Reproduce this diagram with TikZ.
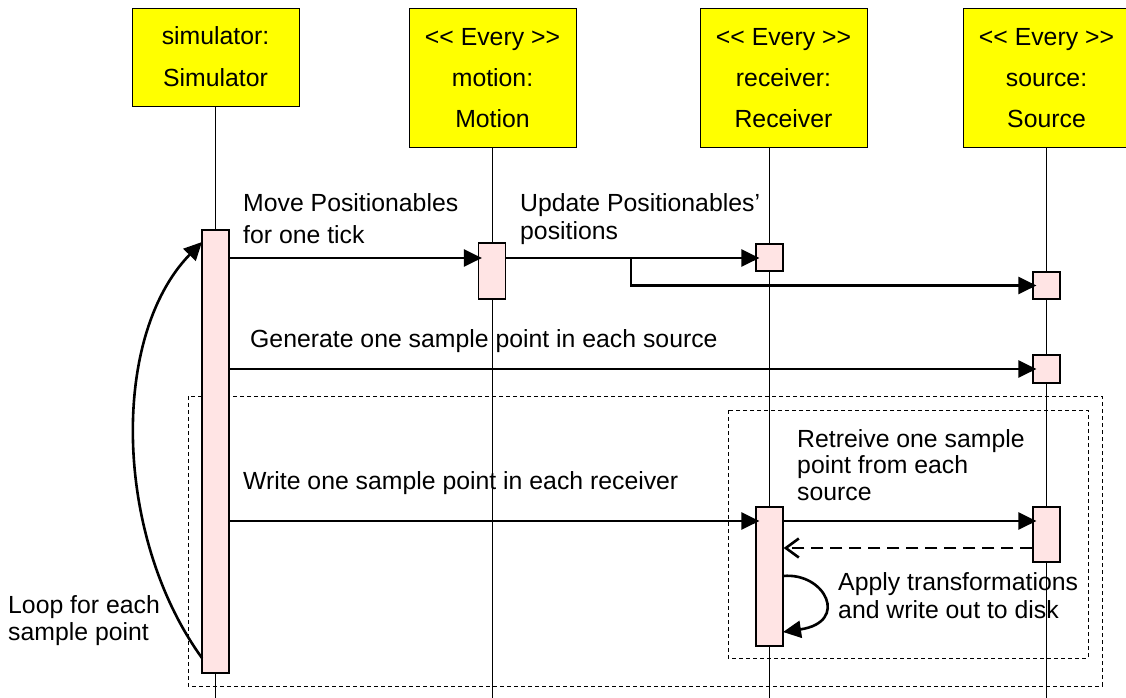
\documentclass[tikz,border=0pt]{standalone}
\usepackage{fontspec}
\setmainfont{Liberation Sans}
\usetikzlibrary{arrows.meta}
\definecolor{objyellow}{RGB}{255,255,0}
\definecolor{actpink}{RGB}{255,228,228}
\newcommand{\lbfont}{\fontsize{24.8}{28}\selectfont}
\tikzset{
  lbl/.style={anchor=base west, inner sep=0pt, font=\lbfont},
  ctr/.style={anchor=base, inner sep=0pt, font=\lbfont},
  obj/.style={draw=black, line width=1.4pt, fill=objyellow, anchor=north west, inner sep=0pt},
  act/.style={draw=black, line width=1.2pt, fill=actpink, inner sep=0pt, minimum width=27pt},
  life/.style={line width=1pt},
  msg/.style={line width=2.6pt, shorten >=-4pt, -{Triangle[length=18pt,width=17pt]}},
  selfmsg/.style={line width=2.6pt, -{Triangle[length=18pt,width=17pt]}},
  ret/.style={line width=2.6pt, dash pattern=on 12pt off 7pt, -{Straight Barb[length=13pt,width=19pt]}},
  frame/.style={line width=1pt, dash pattern=on 4pt off 3pt},
}
\begin{document}
\begin{tikzpicture}[x=1pt,y=-1pt]
\useasboundingbox (0,0) rectangle (1126,698);
\begin{scope}
\clip (0,0) rectangle (1126,698);
% object boxes
\node[obj, minimum width=167pt, minimum height=98pt] (sim) at (132,8) {};
\node[obj, minimum width=167pt, minimum height=139pt] (mot) at (409,8) {};
\node[obj, minimum width=167pt, minimum height=139pt] (rec) at (700,8) {};
\node[obj, minimum width=167pt, minimum height=139pt] (src) at (963,8) {};
\node[ctr] (t1a) at (215.5,45) {simulator:};
\node[ctr] (t1b) at (215.5,87) {Simulator};
\node[ctr] (t2a) at (492.5,46) {{<}{<} Every {>}{>}};
\node[ctr] (t2b) at (492.5,87) {motion:};
\node[ctr] (t2c) at (492.5,128) {Motion};
\node[ctr] (t3a) at (783.5,46) {{<}{<} Every {>}{>}};
\node[ctr] (t3b) at (783.5,87) {receiver:};
\node[ctr] (t3c) at (783.5,128) {Receiver};
\node[ctr] (t4a) at (1046.5,46) {{<}{<} Every {>}{>}};
\node[ctr] (t4b) at (1046.5,87) {source:};
\node[ctr] (t4c) at (1046.5,128) {Source};
% helper coordinates
\coordinate (bot) at (0,698);
\coordinate (xs) at (215.5,0);
\coordinate (xm) at (492,0);
\coordinate (xr) at (769.5,0);
\coordinate (xc) at (1046.5,0);
% lifelines
\draw[life] (xs |- sim.south) -- (xs |- bot);
\draw[life] (xm |- mot.south) -- (xm |- bot);
\draw[life] (xr |- rec.south) -- (xr |- bot);
\draw[life] (xc |- src.south) -- (xc |- bot);
% frames
\draw[frame] (188,396) rectangle (1102,686);
\draw[frame] (728,410) rectangle (1088,658);
% activations
\node[act, minimum height=443pt] (sa) at (215.5,451.5) {};
\node[act, minimum height=56pt] (ma) at (492,271) {};
\node[act, minimum height=27pt] (ra1) at (769.5,257.5) {};
\node[act, minimum height=27pt] (sc1) at (1046.5,285.5) {};
\node[act, minimum height=28pt] (sc2) at (1046.5,369) {};
\node[act, minimum height=139pt] (ra2) at (769.5,576.5) {};
\node[act, minimum height=55pt] (sc3) at (1046.5,534.5) {};
% message levels
\coordinate (m1) at (0,258);
\coordinate (m4) at (0,521);
\coordinate (m6) at (0,548);
\coordinate (br) at (631,258);
% messages
\draw[msg] (sa.east |- m1) -- (ma.west |- m1);
\draw[msg] (ma.east |- m1) -- (ra1.west |- m1);
\draw[msg] (br) |- (sc1.west);
\draw[msg] (sa.east |- sc2.west) -- (sc2.west);
\draw[msg] (sa.east |- m4) -- (ra2.west |- m4);
\draw[msg] (ra2.east |- m4) -- (sc3.west |- m4);
\draw[ret] (sc3.west |- m6) -- (ra2.east |- m6);
\coordinate (s1) at (783,576);
\coordinate (s2) at (783,632);
\draw[selfmsg] (s1) .. controls (825,572) and (850,622) .. (s2);
\coordinate (l1) at (202,658);
\coordinate (l2) at (202,242);
\draw[selfmsg] (l1) .. controls (114,536.6) and (110,336.4) .. (l2);
% labels
\node[lbl] (a1) at (243,211) {Move Positionables};
\node[lbl] (a2) at (243,243) {for one tick};
\node[lbl] (b1) at (520,211) {Update Positionables’};
\node[lbl] (b2) at (520,239) {positions};
\node[lbl] (c1) at (250,347) {Generate one sample point in each source};
\node[lbl] (d1) at (243,489) {Write one sample point in each receiver};
\node[lbl] (e1) at (797,447) {Retreive one sample};
\node[lbl] (e2) at (797,473) {point from each};
\node[lbl] (e3) at (797,500) {source};
\node[lbl] (f1) at (838,590) {Apply transformations};
\node[lbl] (f2) at (838,618) {and write out to disk};
\node[lbl] (g1) at (8,613) {Loop for each};
\node[lbl] (g2) at (8,640) {sample point};
\end{scope}
\end{tikzpicture}
\end{document}
